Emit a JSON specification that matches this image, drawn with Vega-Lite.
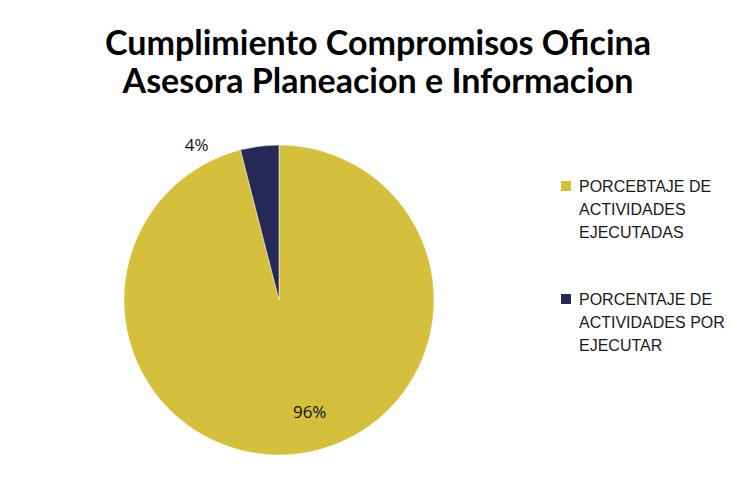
{
  "$schema": "https://vega.github.io/schema/vega-lite/v6.json",
  "width": 558,
  "height": 360,
  "autosize": {"type": "none"},
  "padding": {"top": 120, "left": 0, "right": 175, "bottom": 10},
  "background": "white",
  "title": {
    "text": ["Cumplimiento Compromisos Oficina", "Asesora Planeacion e Informacion"],
    "anchor": "middle",
    "dx": 99,
    "font": "Lato",
    "fontSize": 34,
    "fontWeight": "bold",
    "color": "#000000",
    "lineHeight": 38,
    "offset": 20
  },
  "config": {
    "view": {"stroke": null},
    "style": {"guide-label": {"lineHeight": 23, "dy": -7}}
  },
  "data": {
    "values": [
      {"categoria": "PORCEBTAJE DE ACTIVIDADES EJECUTADAS", "valor": 96, "etiqueta": "96%"},
      {"categoria": "PORCENTAJE DE ACTIVIDADES POR EJECUTAR", "valor": 4, "etiqueta": "4%"}
    ]
  },
  "layer": [
    {
      "mark": {"type": "arc", "outerRadius": 155, "stroke": "#ffffff", "strokeWidth": 0.5},
      "encoding": {
        "theta": {"field": "valor", "type": "quantitative", "stack": true},
        "color": {
          "field": "categoria",
          "type": "nominal",
          "scale": {
            "domain": ["PORCEBTAJE DE ACTIVIDADES EJECUTADAS", "PORCENTAJE DE ACTIVIDADES POR EJECUTAR"],
            "range": ["#D4C03D", "#262856"]
          },
          "legend": {
            "orient": "none",
            "legendX": 558,
            "legendY": 58,
            "title": null,
            "symbolType": "square",
            "symbolSize": 100,
            "symbolStrokeWidth": 0,
            "labelFont": "Liberation Sans",
            "labelFontSize": 16,
            "labelColor": "#1a1a1a",
            "labelLimit": 0,
            "labelBaseline": "top",
            "labelOffset": 5,
            "rowPadding": 50,
            "labelExpr": "datum.label == 'PORCEBTAJE DE ACTIVIDADES EJECUTADAS' ? ['PORCEBTAJE DE', 'ACTIVIDADES', 'EJECUTADAS'] : ['PORCENTAJE DE', 'ACTIVIDADES POR', 'EJECUTAR']"
          }
        }
      }
    },
    {
      "transform": [
        {"stack": "valor", "groupby": [], "sort": [{"field": "categoria"}], "as": ["v0", "v1"]},
        {"calculate": "(datum.v0 + datum.v1) / 2", "as": "mid"},
        {"filter": "datum.valor == 96"}
      ],
      "mark": {"type": "text", "radius": 117, "dx": 16, "dy": -3, "font": "Open Sans", "fontSize": 17, "color": "#111111"},
      "encoding": {
        "theta": {"field": "mid", "type": "quantitative"},
        "text": {"field": "etiqueta"}
      }
    },
    {
      "transform": [
        {"stack": "valor", "groupby": [], "sort": [{"field": "categoria"}], "as": ["v0", "v1"]},
        {"calculate": "(datum.v0 + datum.v1) / 2", "as": "mid"},
        {"filter": "datum.valor == 4"}
      ],
      "mark": {"type": "text", "radius": 170, "dx": -61, "dy": 15, "font": "Open Sans", "fontSize": 17, "color": "#111111"},
      "encoding": {
        "theta": {"field": "mid", "type": "quantitative"},
        "text": {"field": "etiqueta"}
      }
    }
  ]
}
